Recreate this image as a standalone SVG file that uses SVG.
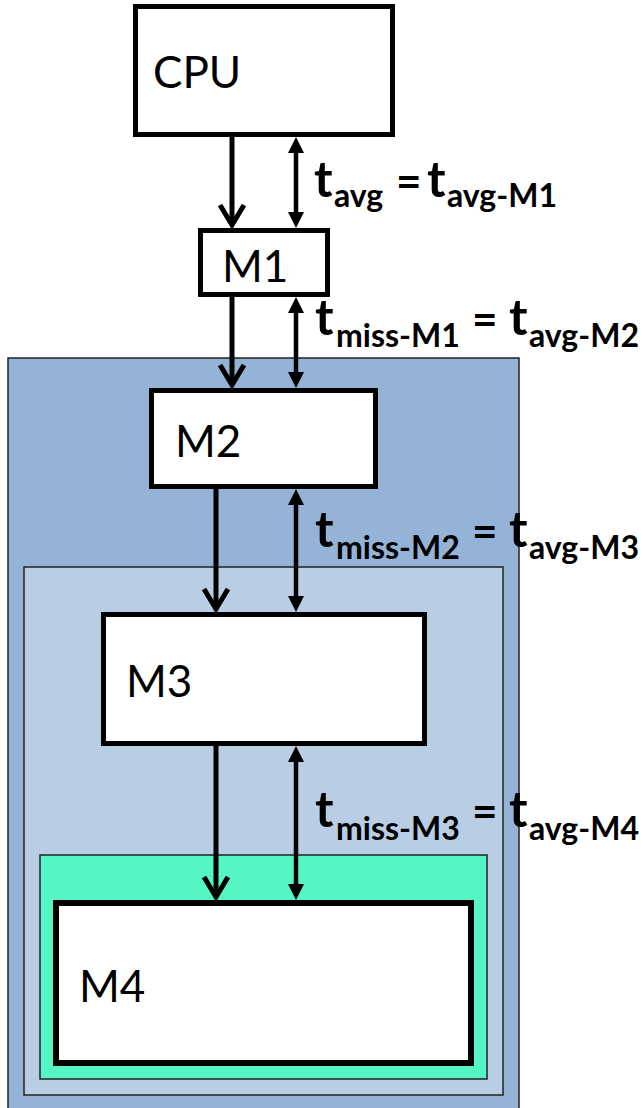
<svg xmlns="http://www.w3.org/2000/svg" width="643" height="1108" viewBox="0 0 643 1108">
<style>
.node{fill:#fff;stroke:#000;stroke-width:5}
.region{stroke:#222;stroke-width:1.5}
.name{font-family:Lato,"Liberation Sans",sans-serif;font-size:44px;fill:#000}
.lbl{font-family:Lato,"Liberation Sans",sans-serif;font-weight:bold;font-size:50px;fill:#000}
.sub{font-size:32px}
.eq{font-size:44px}
.one{stroke:#000;stroke-width:5;fill:none;marker-end:url(#open)}
.two{stroke:#000;stroke-width:4.5;fill:none;marker-start:url(#tri);marker-end:url(#tri)}
</style>
<defs>
<marker id="open" markerUnits="userSpaceOnUse" markerWidth="40" markerHeight="40" refX="0" refY="0" orient="auto" overflow="visible">
<path d="M-20,-12 L0,0 L-20,12" fill="none" stroke="#000" stroke-width="5" stroke-linejoin="miter"/>
</marker>
<marker id="tri" markerUnits="userSpaceOnUse" markerWidth="40" markerHeight="40" refX="0" refY="0" orient="auto-start-reverse" overflow="visible">
<path d="M-1,-8 L15,0 L-1,8 Z" fill="#000"/>
</marker>
</defs>
<g id="level2-region"><rect class="region" x="8" y="358" width="511" height="760" fill="#95B3D7"/></g>
<g id="level3-region"><rect class="region" x="24" y="567" width="479" height="528" fill="#B9CDE5"/></g>
<g id="level4-region"><rect class="region" x="40" y="855" width="447" height="224" fill="#55F5C5"/></g>
<g id="cpu"><rect class="node" x="135.5" y="6.5" width="257" height="128"/><text class="name" x="153" y="88">CPU</text></g>
<g id="m1"><rect class="node" x="200.5" y="230.5" width="127" height="64"/><text class="name" x="222" y="282">M1</text></g>
<g id="m2"><rect class="node" x="151.5" y="390.5" width="224" height="96"/><text class="name" x="175" y="457">M2</text></g>
<g id="m3"><rect class="node" x="103.5" y="614.5" width="321" height="129"/><text class="name" x="126" y="697">M3</text></g>
<g id="m4"><rect class="node" style="stroke-width:6" x="56" y="903" width="415" height="160"/><text class="name" x="79" y="1002">M4</text></g>
<g id="connectors">
<line class="one" x1="232" y1="137" x2="232" y2="225"/>
<line class="two" x1="296" y1="152" x2="296" y2="213"/>
<line class="one" x1="232" y1="297" x2="232" y2="385"/>
<line class="two" x1="296" y1="312" x2="296" y2="373"/>
<line class="one" x1="216" y1="489" x2="216" y2="609"/>
<line class="two" x1="296" y1="504" x2="296" y2="597"/>
<line class="one" x1="216" y1="746" x2="216" y2="897"/>
<line class="two" x1="296" y1="761" x2="296" y2="885"/>
</g>
<g id="labels">
<text class="lbl" y="197"><tspan x="314">t</tspan><tspan class="sub" x="334" y="207">avg</tspan><tspan class="eq" x="396" y="197">=</tspan><tspan x="427">t</tspan><tspan class="sub" x="447" y="207">avg-M1</tspan></text>
<text class="lbl" y="335"><tspan x="315">t</tspan><tspan class="sub" x="336" y="347">miss-M1</tspan><tspan class="eq" x="472" y="335">=</tspan><tspan x="509">t</tspan><tspan class="sub" x="529" y="347">avg-M2</tspan></text>
<text class="lbl" y="547"><tspan x="315">t</tspan><tspan class="sub" x="336" y="559">miss-M2</tspan><tspan class="eq" x="472" y="547">=</tspan><tspan x="509">t</tspan><tspan class="sub" x="529" y="559">avg-M3</tspan></text>
<text class="lbl" y="827"><tspan x="315">t</tspan><tspan class="sub" x="336" y="840">miss-M3</tspan><tspan class="eq" x="472" y="827">=</tspan><tspan x="509">t</tspan><tspan class="sub" x="529" y="840">avg-M4</tspan></text>
</g>
</svg>
